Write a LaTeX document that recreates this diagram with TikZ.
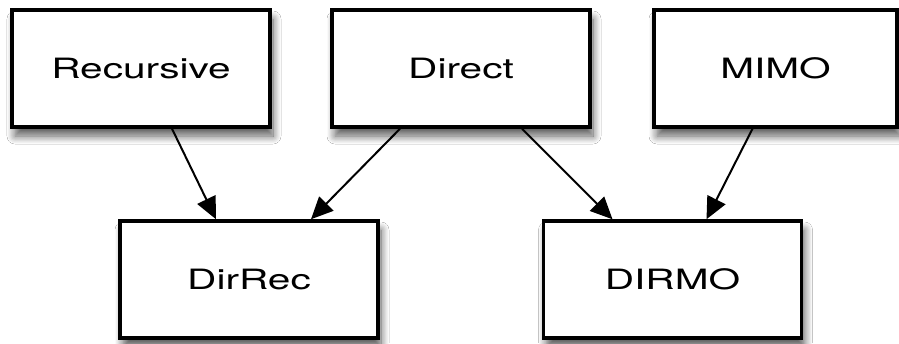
\documentclass[tikz,border=0pt]{standalone}
\usepackage{fontspec}
\setmainfont[FakeStretch=1.45]{TeX Gyre Heros}
\usetikzlibrary{arrows.meta,shadows.blur}
\tikzset{>={Triangle[length=22pt,width=20pt]}}
\tikzset{
  box/.style={draw,line width=3.5pt,fill=white,minimum width=258pt,minimum height=117pt,
    font=\fontsize{28}{30}\selectfont,
    blur shadow={shadow xshift=3pt,shadow yshift=-9pt,shadow blur radius=8pt,shadow blur steps=10,shadow opacity=65}},
  edge/.style={->,line width=2pt}
}

\begin{document}
\begin{tikzpicture}[x=1pt,y=-1pt]
    \useasboundingbox[fill=white] (0,0) rectangle (899,343);
    % top row
    \node[box] (rec) at (141,68.5) {Recursive};
    \node[box] (dir) at (461,68.5) {Direct};
    \node[box,minimum width=243pt] (mimo) at (775.5,68.5) {MIMO};
    % bottom row
    \node[box] (dirrec) at (249,279.5) {DirRec};
    \node[box] (dirmo) at (672.5,279.5) {DIRMO};
    \draw[edge] ([xshift=31pt]rec.south) -- ([xshift=-33pt]dirrec.north);
    \draw[edge] ([xshift=-61pt]dir.south) -- ([xshift=62pt]dirrec.north);
    \draw[edge] ([xshift=61pt]dir.south) -- ([xshift=-60pt]dirmo.north);
    \draw[edge] ([xshift=-23pt]mimo.south) -- ([xshift=34pt]dirmo.north);
  \end{tikzpicture}
\end{document}
